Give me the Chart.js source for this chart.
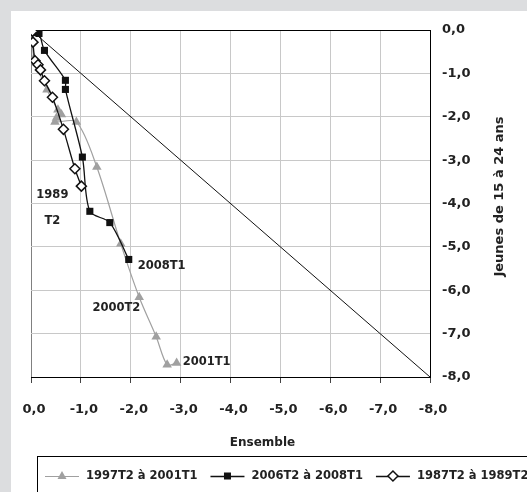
<!DOCTYPE html>
<html lang="fr">
<head>
<meta charset="utf-8">
<title>Ensemble / Jeunes de 15 à 24 ans</title>
<script src="https://cdn.jsdelivr.net/npm/chart.js"></script>
<style>
    html, body { margin: 0; padding: 0; width: 527px; height: 492px; overflow: hidden; background: #dcdddf; }
    #painel { position: absolute; left: 11px; top: 11px; width: 516px; height: 481px; background: #fff; }
    #grafico { display: block; }
</style>
</head>
<body>
<div id="painel"><canvas id="grafico" width="516" height="481"></canvas></div>
<script>
// Rótulos dos eixos (mesmos valores nos dois eixos)
const rotulosEixo = ['0,0', '-1,0', '-2,0', '-3,0', '-4,0', '-5,0', '-6,0', '-7,0', '-8,0'];

// Nomes das séries (legenda)
const nomesSeries = ['1997T2 à 2001T1', '2006T2 à 2008T1', '1987T2 à 1989T2'];

// Série 1997T2 à 2001T1 (Ensemble = x, Jeunes = y)
const ensemble1997 = [-0.02, -0.06, -0.32, -0.54, -0.61, -0.51, -0.48, -0.91, -1.32, -1.80, -2.17, -2.51, -2.73, -2.92];
const jeunes1997 = [-0.05, -0.65, -1.38, -1.84, -1.95, -2.03, -2.12, -2.12, -3.16, -4.93, -6.16, -7.07, -7.72, -7.68];

// Série 2006T2 à 2008T1
const ensemble2006 = [-0.05, -0.16, -0.27, -0.69, -0.69, -1.03, -1.18, -1.58, -1.96];
const jeunes2006 = [-0.06, -0.08, -0.47, -1.16, -1.37, -2.93, -4.18, -4.44, -5.29];

// Série 1987T2 à 1989T2
const ensemble1987 = [-0.03, -0.04, -0.08, -0.14, -0.19, -0.27, -0.43, -0.65, -0.88, -1.01];
const jeunes1987 = [-0.03, -0.28, -0.71, -0.80, -0.92, -1.17, -1.55, -2.29, -3.20, -3.60];

// Diagonal de referência
const diagonalX = [0, -8];
const diagonalY = [0, -8];

// Rótulos de pontos
const textosPontos = [['2008T1'], ['2000T2'], ['2001T1'], ['1989', 'T2']];

const corCinza = '#a0a0a0';
const corTexto = '#222';
const fonte = '"DejaVu Sans", Verdana, sans-serif';

function juntarPontos(xs, ys) {
    return xs.map(function (x, i) { return { x: x, y: ys[i] }; });
}

// posição de cada rótulo em relação ao ponto (serie = índice do dataset)
const posicoesRotulos = [
    { serie: 1, ponto: 8, dx: 9, dy: 7, alinhamento: 'left' },
    { serie: 2, ponto: 10, dx: 1, dy: 11, alinhamento: 'right' },
    { serie: 2, ponto: 13, dx: 6, dy: -1, alinhamento: 'left' },
    { serie: 0, ponto: 9, dx: -29, dy: 9, alinhamento: 'center' }
];

function desenharMarcador(ctx, estilo, x, y) {
    ctx.save();
    ctx.beginPath();
    if (estilo === 'triangle') {
        ctx.moveTo(x, y - 5);
        ctx.lineTo(x + 4.5, y + 3);
        ctx.lineTo(x - 4.5, y + 3);
        ctx.closePath();
        ctx.fillStyle = corCinza;
        ctx.fill();
    } else if (estilo === 'rect') {
        ctx.fillStyle = '#111';
        ctx.fillRect(x - 3.5, y - 3.5, 7, 7);
    } else {
        ctx.moveTo(x, y - 5);
        ctx.lineTo(x + 5, y);
        ctx.lineTo(x, y + 5);
        ctx.lineTo(x - 5, y);
        ctx.closePath();
        ctx.fillStyle = '#fff';
        ctx.fill();
        ctx.lineWidth = 1.5;
        ctx.strokeStyle = '#111';
        ctx.stroke();
    }
    ctx.restore();
}

// Plugin para rótulos, títulos dos eixos e legenda
const pluginExtras = {
    id: 'extras',
    afterDatasetsDraw: function (chart) {
        const ctx = chart.ctx;
        ctx.save();
        ctx.font = 'bold 11.5px ' + fonte;
        ctx.fillStyle = corTexto;
        ctx.textBaseline = 'middle';
        for (let i = 0; i < posicoesRotulos.length; i++) {
            const p = posicoesRotulos[i];
            const el = chart.getDatasetMeta(p.serie).data[p.ponto];
            ctx.textAlign = p.alinhamento;
            const linhas = textosPontos[i];
            for (let j = 0; j < linhas.length; j++) {
                ctx.fillText(linhas[j], el.x + p.dx, el.y + p.dy + j * 26);
            }
        }
        ctx.restore();
    },
    afterDraw: function (chart) {
        const ctx = chart.ctx;
        const area = chart.chartArea;
        ctx.save();
        ctx.fillStyle = corTexto;
        ctx.textBaseline = 'middle';
        ctx.textAlign = 'center';

        // título eixo x
        ctx.font = 'bold 12px ' + fonte;
        ctx.fillText('Ensemble', (area.left + area.right) / 2 + 32, area.bottom + 66);

        // título eixo y (lido de baixo para cima)
        ctx.save();
        ctx.translate(area.right + 70, (area.top + area.bottom) / 2 - 7);
        ctx.rotate(-Math.PI / 2);
        ctx.font = 'bold 13px ' + fonte;
        ctx.fillText('Jeunes de 15 à 24 ans', 0, 0);
        ctx.restore();

        // legenda com moldura
        ctx.lineWidth = 1;
        ctx.strokeStyle = '#000';
        ctx.strokeRect(26.5, 445.5, 700, 100);

        const estilos = ['triangle', 'rect', 'rectRot'];
        const coresLinha = [corCinza, '#111', '#111'];
        ctx.font = 'bold 11.5px ' + fonte;
        ctx.textAlign = 'left';
        let x = 34;
        const y = 465;
        for (let i = 0; i < nomesSeries.length; i++) {
            ctx.beginPath();
            ctx.moveTo(x, y + 0.5);
            ctx.lineTo(x + 34, y + 0.5);
            ctx.strokeStyle = coresLinha[i];
            ctx.lineWidth = i === 0 ? 1 : 1.3;
            ctx.stroke();
            desenharMarcador(ctx, estilos[i], x + 17, y);
            ctx.fillStyle = corTexto;
            ctx.fillText(nomesSeries[i], x + 41, y);
            x = x + 41 + ctx.measureText(nomesSeries[i]).width + 13;
        }
        ctx.restore();
    }
};

function plotarGrafico() {
    let dados = {
        datasets: [{
            label: nomesSeries[2],
            data: juntarPontos(ensemble1987, jeunes1987),
            showLine: true,
            tension: 0.3,
            borderColor: '#111',
            borderWidth: 1.3,
            pointStyle: 'rectRot',
            pointRadius: 5,
            pointBackgroundColor: '#fff',
            pointBorderColor: '#111',
            pointBorderWidth: 1.5
        }, {
            label: nomesSeries[1],
            data: juntarPontos(ensemble2006, jeunes2006),
            showLine: true,
            tension: 0.3,
            borderColor: '#111',
            borderWidth: 1.3,
            pointStyle: 'rect',
            pointRadius: 5,
            pointBackgroundColor: '#111',
            pointBorderColor: '#111',
            pointBorderWidth: 0
        }, {
            label: nomesSeries[0],
            data: juntarPontos(ensemble1997, jeunes1997),
            showLine: true,
            tension: 0.3,
            borderColor: corCinza,
            borderWidth: 1.2,
            pointStyle: 'triangle',
            pointRadius: 5.5,
            pointBackgroundColor: corCinza,
            pointBorderColor: corCinza,
            pointBorderWidth: 0
        }, {
            label: 'diagonale',
            data: juntarPontos(diagonalX, diagonalY),
            showLine: true,
            tension: 0,
            borderColor: '#111',
            borderWidth: 1,
            pointRadius: 0
        }]
    };

    const config = {
        type: 'scatter',
        data: dados,
        options: {
            responsive: false,
            animation: false,
            layout: { padding: { left: 20, top: 19, right: 0, bottom: 0 } },
            plugins: {
                legend: { display: false },
                tooltip: { enabled: false }
            },
            scales: {
                x: {
                    type: 'linear',
                    min: -8,
                    max: 0,
                    reverse: true,
                    afterFit: function (escala) {
                        escala.height = 115;
                        escala.paddingLeft = 0;
                        escala.paddingRight = 0;
                    },
                    border: { color: '#000', width: 1 },
                    grid: {
                        color: function (c) {
                            if (c.tick && c.tick.value === 0) return '#808080';
                            if (c.tick && c.tick.value === -8) return '#000';
                            return '#c8c8c8';
                        },
                        tickColor: '#444',
                        tickLength: 6,
                        drawTicks: true
                    },
                    ticks: {
                        stepSize: 1,
                        autoSkip: false,
                        maxRotation: 0,
                        padding: 19,
                        labelOffset: 3,
                        color: corTexto,
                        font: { family: fonte, size: 13, weight: 'bold' },
                        callback: function (valor) { return rotulosEixo[Math.round(-valor)]; }
                    }
                },
                y: {
                    type: 'linear',
                    position: 'right',
                    min: -8,
                    max: 0,
                    afterFit: function (escala) {
                        escala.width = 97;
                        escala.paddingTop = 0;
                        escala.paddingBottom = 0;
                    },
                    border: { color: '#000', width: 1 },
                    grid: {
                        color: function (c) {
                            if (c.tick && (c.tick.value === 0 || c.tick.value === -8)) return '#000';
                            return '#c8c8c8';
                        },
                        drawTicks: false
                    },
                    ticks: {
                        stepSize: 1,
                        autoSkip: false,
                        padding: 12,
                        color: corTexto,
                        font: { family: fonte, size: 13, weight: 'bold' },
                        callback: function (valor) { return rotulosEixo[Math.round(-valor)]; }
                    }
                }
            }
        },
        plugins: [pluginExtras]
    };

    let grafico = new Chart(
        document.getElementById('grafico'),
        config
    );
}

plotarGrafico();
</script>
</body>
</html>
